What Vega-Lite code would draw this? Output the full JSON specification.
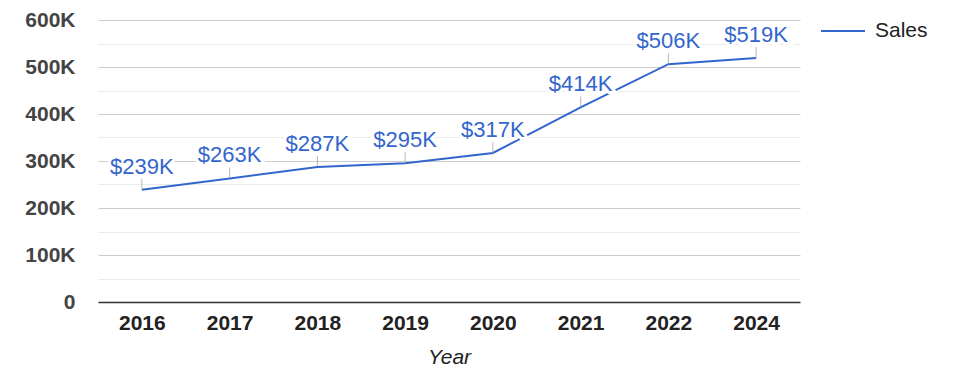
{
  "$schema": "https://vega.github.io/schema/vega-lite/v6.json",
  "width": 702,
  "height": 282,
  "autosize": {"type": "none"},
  "padding": {"left": 98, "top": 20, "right": 175, "bottom": 76},
  "background": "white",
  "config": {"view": {"stroke": null}, "font": "Liberation Sans"},
  "data": {
    "values": [
      {"Year": "2016", "Sales": 239000},
      {"Year": "2017", "Sales": 263000},
      {"Year": "2018", "Sales": 287000},
      {"Year": "2019", "Sales": 295000},
      {"Year": "2020", "Sales": 317000},
      {"Year": "2021", "Sales": 414000},
      {"Year": "2022", "Sales": 506000},
      {"Year": "2024", "Sales": 519000}
    ]
  },
  "transform": [
    {"calculate": "'$' + format(datum.Sales / 1000, '.0f') + 'K'", "as": "label"}
  ],
  "encoding": {
    "x": {
      "field": "Year",
      "type": "ordinal",
      "scale": {"type": "point", "padding": 0.5},
      "axis": {
        "title": "Year",
        "titleFont": "Liberation Sans",
        "titleFontSize": 21,
        "titleFontStyle": "italic",
        "titleFontWeight": "normal",
        "titleColor": "#222222",
        "titlePadding": 13,
        "labelAngle": 0,
        "labelFontSize": 21,
        "labelFontWeight": "bold",
        "labelColor": "#222222",
        "labelPadding": 10,
        "ticks": false,
        "domainColor": "#333333",
        "domainWidth": 1.5,
        "grid": false
      }
    },
    "y": {
      "field": "Sales",
      "type": "quantitative",
      "scale": {"domain": [0, 600000], "nice": false},
      "axis": {
        "title": null,
        "values": [0, 50000, 100000, 150000, 200000, 250000, 300000, 350000, 400000, 450000, 500000, 550000, 600000],
        "labelExpr": "datum.value == 0 ? '0' : (datum.value % 100000 == 0 ? (datum.value / 1000) + 'K' : '')",
        "labelFontSize": 21,
        "labelFontWeight": "bold",
        "labelColor": "#444444",
        "labelPadding": 23,
        "ticks": false,
        "domain": false,
        "grid": true,
        "gridColor": {"condition": {"test": "datum.value % 100000 === 0", "value": "#cccccc"}, "value": "#ebebeb"},
        "gridWidth": 1
      }
    }
  },
  "layer": [
    {
      "mark": {"type": "line", "strokeWidth": 2},
      "encoding": {
        "color": {
          "datum": "Sales",
          "type": "nominal",
          "scale": {"range": ["#3366cc"]},
          "legend": {
            "title": null,
            "orient": "none",
            "legendX": 722,
            "legendY": -12,
            "symbolType": "stroke",
            "symbolSize": 1936,
            "symbolStrokeWidth": 2,
            "labelFontSize": 21,
            "labelColor": "#222222",
            "labelOffset": 9
          }
        }
      }
    },
    {
      "mark": {"type": "tick", "orient": "vertical", "color": "#999999", "size": 11, "thickness": 1, "yOffset": -5.5}
    },
    {
      "mark": {"type": "text", "dy": -16, "baseline": "alphabetic", "fill": "white", "stroke": "white", "strokeWidth": 6, "fontSize": 22},
      "encoding": {"text": {"field": "label"}}
    },
    {
      "mark": {"type": "text", "dy": -16, "baseline": "alphabetic", "color": "#3366cc", "fontSize": 22},
      "encoding": {"text": {"field": "label"}}
    }
  ]
}
